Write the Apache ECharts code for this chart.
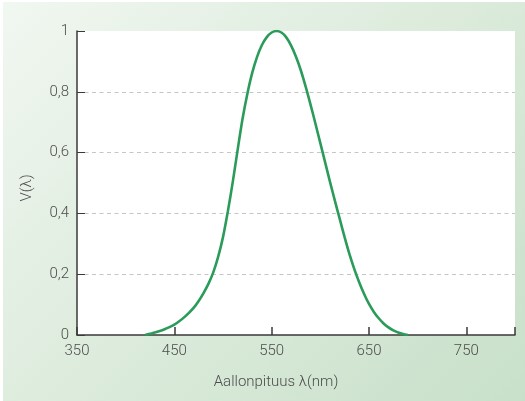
<!DOCTYPE html>
<html>
<head>
<meta charset="utf-8">
<script src="https://cdn.jsdelivr.net/npm/echarts@6/dist/echarts.min.js"></script>
<style>
  html, body { margin: 0; padding: 0; background: #ffffff; }
  #backdrop {
    position: absolute; left: 3px; top: 2px; width: 522px; height: 399px;
    background: linear-gradient(135deg, #f1f7f1 0%, #dcebdc 50%, #c8e0c9 100%);
  }
  #chart { position: absolute; left: 0; top: 0; width: 525px; height: 401px; }
</style>
</head>
<body>
<div id="backdrop"></div>
<div id="chart"></div>
<script>
// Photopic luminous efficiency V(λ), sampled every 5 nm
const wavelengths = [420, 425, 430, 435, 440, 445, 450, 455, 460, 465, 470, 475, 480, 485, 490, 495,
                     500, 505, 510, 515, 520, 525, 530, 535, 540, 545, 550, 555, 560, 565, 570, 575,
                     580, 585, 590, 595, 600, 605, 610, 615, 620, 625, 630, 635, 640, 645, 650, 655,
                     660, 665, 670, 675, 680, 685, 690];
const efficiency  = [0, 0.004, 0.008, 0.013, 0.019, 0.026, 0.034, 0.045, 0.058, 0.073, 0.090, 0.112, 0.138, 0.168, 0.206, 0.257,
                     0.322, 0.407, 0.503, 0.608, 0.710, 0.793, 0.862, 0.915, 0.954, 0.980, 0.995, 1.000, 0.995, 0.979, 0.952, 0.915,
                     0.870, 0.816, 0.757, 0.695, 0.631, 0.567, 0.503, 0.441, 0.381, 0.321, 0.265, 0.216, 0.173, 0.135, 0.102, 0.076,
                     0.055, 0.038, 0.025, 0.015, 0.008, 0.003, 0];
const xTicks = [350, 450, 550, 650, 750];
const yLabels = { 0: '0', 0.2: '0,2', 0.4: '0,4', 0.6: '0,6', 0.8: '0,8', 1: '1' };

const FONT = "Roboto, 'Liberation Sans', sans-serif";
const TEXT = '#4d4d4d';

const chart = echarts.init(document.getElementById('chart'), null, { renderer: 'canvas' });
chart.setOption({
  animation: false,
  backgroundColor: 'transparent',
  grid: {
    left: 77, top: 31, width: 438, height: 304,
    show: true, backgroundColor: '#ffffff', borderWidth: 0
  },
  xAxis: {
    type: 'value', min: 350, max: 800, interval: 100,
    axisLine: { show: true, lineStyle: { color: '#3a3a3a', width: 1.5 } },
    axisTick: { show: true, inside: true, length: 8, lineStyle: { color: '#3a3a3a', width: 1.5 } },
    splitLine: { show: false },
    axisLabel: {
      margin: 9, color: TEXT, fontFamily: FONT, fontWeight: 300, fontSize: 15,
      formatter: v => (xTicks.indexOf(v) >= 0 ? String(v) : '')
    }
  },
  yAxis: {
    type: 'value', min: 0, max: 1, interval: 0.2,
    axisLine: { show: true, lineStyle: { color: '#3a3a3a', width: 1.5 } },
    axisTick: { show: true, inside: true, length: 8, lineStyle: { color: '#3a3a3a', width: 1 } },
    splitLine: {
      show: true, showMinLine: false, showMaxLine: false,
      lineStyle: { color: '#c6c6c6', width: 1.2, type: [4, 3.5] }
    },
    axisLabel: {
      margin: 8, color: TEXT, fontFamily: FONT, fontWeight: 300, fontSize: 15,
      formatter: v => yLabels[Math.round(v * 10) / 10]
    }
  },
  graphic: [
    {
      type: 'text', x: 276, y: 382,
      style: {
        text: 'Aallonpituus λ(nm)', fill: TEXT, font: "300 15px " + FONT,
        textAlign: 'center', textVerticalAlign: 'middle'
      }
    },
    {
      type: 'text', x: 27, y: 188, rotation: Math.PI / 2,
      style: {
        text: 'V(λ)', fill: TEXT, font: "300 15px " + FONT,
        textAlign: 'center', textVerticalAlign: 'middle'
      }
    }
  ],
  series: [{
    type: 'line',
    data: wavelengths.map((w, i) => [w, efficiency[i]]),
    smooth: 0.3,
    showSymbol: false,
    lineStyle: { color: '#2b9b5a', width: 2.6 }
  }]
});
</script>
</body>
</html>
